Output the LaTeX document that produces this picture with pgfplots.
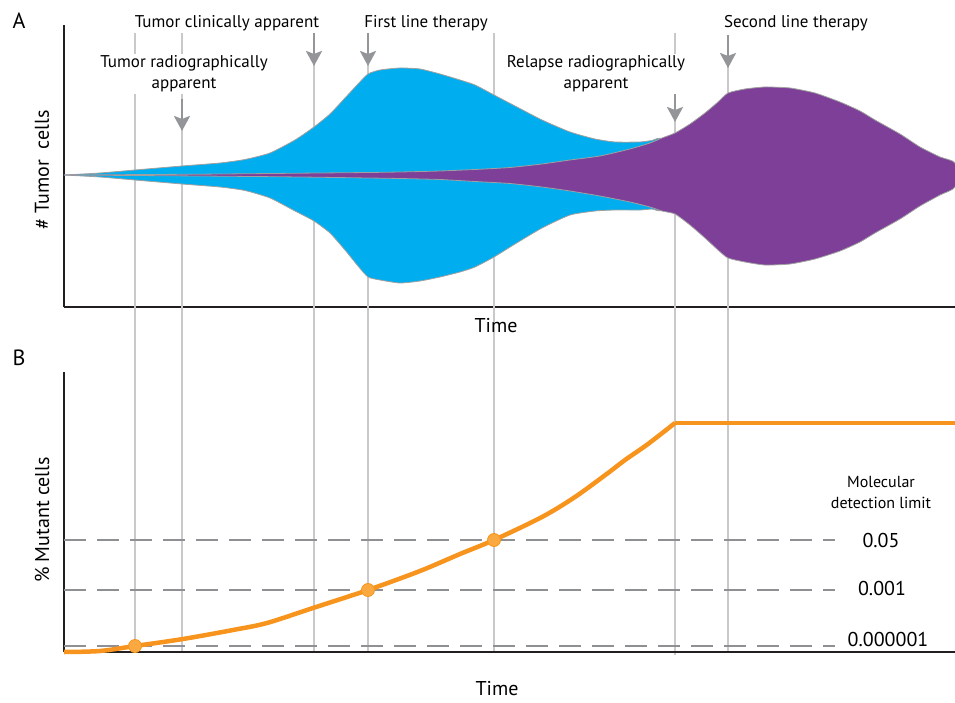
\documentclass[border=0pt]{standalone}
\usepackage{pgfplots}
\pgfplotsset{compat=1.18}
\usetikzlibrary{arrows.meta}
\usepackage{fontspec}
\setmainfont{PT Sans}
\definecolor{tblue}{HTML}{00AEEF}
\definecolor{tpurple}{HTML}{7D3F98}
\definecolor{torange}{HTML}{F7941D}
\definecolor{tdot}{HTML}{F9A940}
\definecolor{vgray}{HTML}{C9C9CB}
\definecolor{agray}{HTML}{939598}
\definecolor{dgray}{HTML}{8F9093}
\definecolor{egray}{HTML}{A0A0A0}
\definecolor{axblack}{HTML}{231F20}

% Panel A: outer envelope of first clone (x, half-width)
\pgfplotstableread{
x y
64 0
100 2
135 5
182 9
220 12
245 15.5
270 22
295 35
314 48
330 61
345 77
358 91
368 101
380 105
400 107
420 106
440 101
460 95
475 90
494 80
515 69
542 55
570 43
595 36
615 33
640 33
652 34.5
663 35.5
690 0
663 -34.5
652 -34
640 -35
615 -35
595 -36
570 -40
542 -53
515 -69
494 -82
475 -92
460 -97
440 -102
420 -106
400 -108
380 -105
368 -102
358 -91
345 -75
330 -58
314 -46
295 -36
270 -23
245 -15.5
220 -12
182 -9
135 -5
100 -2
64 0
}\blueclone

% Panel A: resistant clone
\pgfplotstableread{
x y
64 0
200 0.8
300 1.8
368 2.5
400 3
440 4
475 5.5
510 7.5
542 11
570 15
600 19
630 26
650 32
662 37
675 42
690 51
705 62
718 73
728 82
745 86
765 88
790 87
815 82
840 73
860 64
875 55
900 41
920 28
940 18
955 12
955 -12
940 -20
920 -31
900 -44
875 -58
860 -67
840 -76
815 -84
790 -89
765 -90
745 -87
728 -83
718 -75
705 -63
690 -50
675 -39
662 -36
650 -32
630 -27
600 -21
570 -16
542 -12
510 -8.5
475 -6.5
440 -4.5
400 -3.5
368 -3
300 -2
200 -1
64 0
}\purpleclone

% Panel B: mutant fraction (rising part, then plateau)
\pgfplotstableread{
x y
64 0
100 1
135 6
183 13
233 22
267 29
313 44
368 62
420 81
460 98
494 112
542 135
575 155
608 179
625 192
648 208
675 229
}\mutantrise
\pgfplotstableread{
x y
675 229
955 229
}\mutantplateau

\begin{document}
\begin{tikzpicture}[x=1pt,y=1pt]
\path[use as bounding box] (0,0) rectangle (955,702);

% ---------------- Panel A ----------------
\begin{axis}[
  at={(64pt,394.5pt)}, anchor=south west,
  x=1pt, y=1pt,
  xmin=64, xmax=955, ymin=-132.5, ymax=150,
  axis x line=bottom, axis y line=left,
  axis line style={-, line width=2pt, color=axblack},
  xtick=\empty, ytick=\empty,
  clip=false,
]
% event lines (span both panels)
\addplot[vgray, line width=1.2pt] coordinates {(135,142) (135,-477)};
\addplot[vgray, line width=1.2pt] coordinates {(182,142) (182,-477)};
\addplot[vgray, line width=1.2pt] coordinates {(314,142) (314,-477)};
\addplot[vgray, line width=1.2pt] coordinates {(368,142) (368,-477)};
\addplot[vgray, line width=1.2pt] coordinates {(494,142) (494,-477)};
\addplot[vgray, line width=1.2pt] coordinates {(675,142) (675,-480)};
\addplot[vgray, line width=1.2pt] coordinates {(728,140) (728,-477)};

\addplot[fill=tblue, draw=egray, line width=0.8pt, smooth, tension=0.35] table {\blueclone} -- cycle;
\addplot[fill=tpurple, draw=egray, line width=0.8pt, smooth, tension=0.35] table {\purpleclone} -- cycle;

% arrows
\draw[agray, line width=2.6pt, -{Stealth[width=16pt,length=15pt,inset=3pt]}] (axis cs:182,76) -- (axis cs:182,44);
\draw[agray, line width=2.6pt, -{Stealth[width=16pt,length=15pt,inset=3pt]}] (axis cs:314,142) -- (axis cs:314,109);
\draw[agray, line width=2.6pt, -{Stealth[width=16pt,length=15pt,inset=3pt]}] (axis cs:368,142) -- (axis cs:368,109);
\draw[agray, line width=2.6pt, -{Stealth[width=16pt,length=15pt,inset=3pt]}] (axis cs:675,85) -- (axis cs:675,53);
\draw[agray, line width=2.6pt, -{Stealth[width=16pt,length=15pt,inset=3pt]}] (axis cs:728,140) -- (axis cs:728,107);
\end{axis}

% ---------------- Panel B ----------------
\begin{axis}[
  at={(64pt,50pt)}, anchor=south west,
  x=1pt, y=1pt,
  xmin=64, xmax=955, ymin=0, ymax=280,
  axis x line=bottom, axis y line=left,
  axis line style={-, line width=2pt, color=axblack},
  xtick=\empty, ytick=\empty,
  clip=false,
]
\addplot[dgray, line width=2.2pt, dash pattern=on 22pt off 11pt] coordinates {(64,112) (835,112)};
\addplot[dgray, line width=2.2pt, dash pattern=on 22pt off 11pt] coordinates {(64,62) (835,62)};
\addplot[dgray, line width=2.2pt, dash pattern=on 22pt off 11pt] coordinates {(64,6) (835,6)};
\addplot[torange, line width=4.5pt, smooth, tension=0.5, line join=round] table {\mutantrise};
\addplot[torange, line width=4.5pt, line join=round] table {\mutantplateau};
\addplot[only marks, mark=*, mark size=6.5pt, mark options={fill=tdot, draw=torange, line width=0.8pt}] coordinates {(135,6) (368,62) (494,112)};
\end{axis}

% ---------------- Text ----------------
\node[font=\fontsize{22}{24}\selectfont] at (19,681) {A};
\node[font=\fontsize{22}{24}\selectfont] at (19,344) {B};

\node[font=\fontsize{17}{20}\selectfont] at (227,679) {Tumor clinically apparent};
\node[font=\fontsize{17}{20}\selectfont] at (426,679) {First line therapy};
\node[font=\fontsize{17}{20}\selectfont] at (796,679) {Second line therapy};
\node[font=\fontsize{17}{21}\selectfont, fill=white, inner sep=2pt, align=center] at (184,628) {Tumor radiographically\\apparent};
\node[font=\fontsize{17}{21}\selectfont, fill=white, inner sep=2pt, align=center] at (596,628) {Relapse radiographically\\apparent};

\node[font=\fontsize{20}{24}\selectfont, rotate=90] at (42,532) {\# Tumor\ \ cells};
\node[font=\fontsize{20}{24}\selectfont] at (496,376) {Time};

\node[font=\fontsize{20}{24}\selectfont, rotate=90] at (42,182) {\% Mutant cells};
\node[font=\fontsize{20}{24}\selectfont, inner sep=1pt] at (497,13) {Time};

\node[font=\fontsize{16}{21}\selectfont, align=center] at (881,210) {Molecular\\detection limit};
\node[font=\fontsize{20}{24}\selectfont] at (881,162) {0.05};
\node[font=\fontsize{20}{24}\selectfont] at (882,114) {0.001};
\node[font=\fontsize{20}{24}\selectfont] at (888,63) {0.000001};
\end{tikzpicture}
\end{document}
